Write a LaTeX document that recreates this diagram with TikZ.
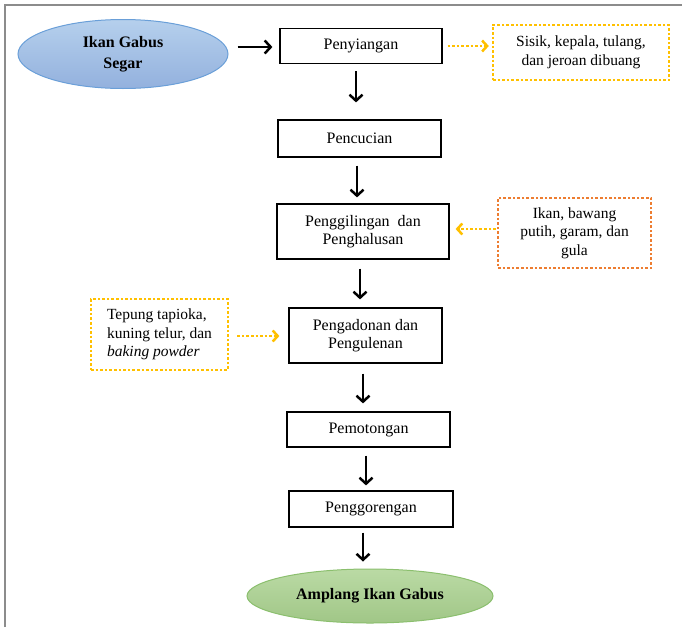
\documentclass[tikz,border=0pt]{standalone}
\usepackage{fontspec}
\setmainfont{Liberation Serif}
\usetikzlibrary{arrows.meta,shapes.geometric,calc}
\definecolor{blueFill}{HTML}{A3C4E8}
\definecolor{blueEdge}{HTML}{6A9FD8}
\definecolor{greenFill}{HTML}{A9D18E}
\definecolor{greenEdge}{HTML}{8BBF6E}
\definecolor{goldY}{HTML}{FFC000}
\definecolor{orangeO}{HTML}{ED7D31}
\definecolor{frameGray}{HTML}{8C8C8C}
\tikzset{
  stepbox/.style={draw=black, line width=1.2pt, rectangle, align=center, font=\fontsize{16}{18.5}\selectfont, inner sep=0pt},
  ovalnode/.style={ellipse, line width=1pt, align=center, font=\fontsize{16}{21}\selectfont\bfseries, inner sep=0pt},
  dotpat/.style={dash pattern=on 2.6pt off 2pt},
  notebox/.style={rectangle, line width=2.4pt, dotpat, font=\fontsize{15.5}{18.5}\selectfont, inner sep=0pt},
  arr/.style={draw=black, line width=2.5pt, -{Straight Barb[length=6pt,width=13pt]}},
  dotarr/.style={draw=goldY, line width=2.5pt, dotpat, -{Straight Barb[length=5pt,width=11pt]}}
}
\begin{document}
\begin{tikzpicture}[x=1pt,y=-1pt]
\useasboundingbox (0,0) rectangle (682,627);
% frame
\draw[frameGray, line width=1.5pt] (5,627) -- (5,5) -- (682,5);

% ellipses
\node[ovalnode, draw=blueEdge, top color=blueFill!80!white, bottom color=blueFill!95!blue!95!black, minimum width=210pt, minimum height=69pt] (src) at (123,54) {Ikan Gabus\\Segar};
\node[ovalnode, draw=greenEdge, top color=greenFill!80!white, bottom color=greenFill!95!black, minimum width=246pt, minimum height=54pt] (out) at (370,596) {Amplang Ikan Gabus};

% process boxes
\node[stepbox, minimum width=162pt, minimum height=35pt] (p1) at (361,46) {Penyiangan};
\node[stepbox, minimum width=163pt, minimum height=37pt] (p2) at (359.5,138.5) {Pencucian};
\node[stepbox, minimum width=172pt, minimum height=55pt] (p3) at (363,231.5) {Penggilingan \ dan\\Penghalusan};
\node[stepbox, minimum width=153pt, minimum height=55pt] (p4) at (365.5,335.5) {Pengadonan dan\\Pengulenan};
\node[stepbox, minimum width=163pt, minimum height=35pt] (p5) at (368.5,429.5) {Pemotongan};
\node[stepbox, minimum width=164pt, minimum height=36pt] (p6) at (371,509) {Penggorengan};

% side notes
\node[notebox, draw=goldY, minimum width=176pt, minimum height=55pt, align=center] (n1) at (581,52.5) {Sisik, kepala, tulang,\\dan jeroan dibuang};
\node[notebox, draw=orangeO, minimum width=153pt, minimum height=70pt, align=center] (n2) at (574.5,233) {Ikan, bawang\\putih, garam, dan\\gula};
\node[notebox, draw=goldY, minimum width=137pt, minimum height=71pt, align=left] (n3) at (159.5,334.5) {Tepung tapioka,\\kuning telur, dan\\\textit{baking powder}};

% main arrows
\draw[arr] ($(src.east)+(9,-7)$) -- ($(p1.west)+(-7,1)$);
\draw[arr] ($(p1.south)+(-5,7)$) -- ($(p2.north)+(-3.5,-17)$);
\draw[arr] ($(p2.south)+(-2.5,8)$) -- ($(p3.north)+(-6,-6)$);
\draw[arr] ($(p3.south)+(-3,9)$) -- ($(p4.north)+(-5.5,-8)$);
\draw[arr] ($(p4.south)+(-2.5,10)$) -- ($(p5.north)+(-5.5,-8)$);
\draw[arr] ($(p5.south)+(-2.5,8)$) -- ($(p6.north)+(-5,-5)$);
\draw[arr] ($(p6.south)+(-8,5)$) -- ($(out.north)+(-7,-7)$);

% dotted arrows
\draw[dotarr] ($(p1.east)+(5,0)$) -- ($(n1.west)+(-3,-6.5)$);
\draw[dotarr] ($(n2.west)+(-1,-4)$) -- ($(p3.east)+(6,-2.5)$);
\draw[dotarr] ($(n3.east)+(8,1.5)$) -- ($(p4.west)+(-9,0.5)$);
\end{tikzpicture}
\end{document}
